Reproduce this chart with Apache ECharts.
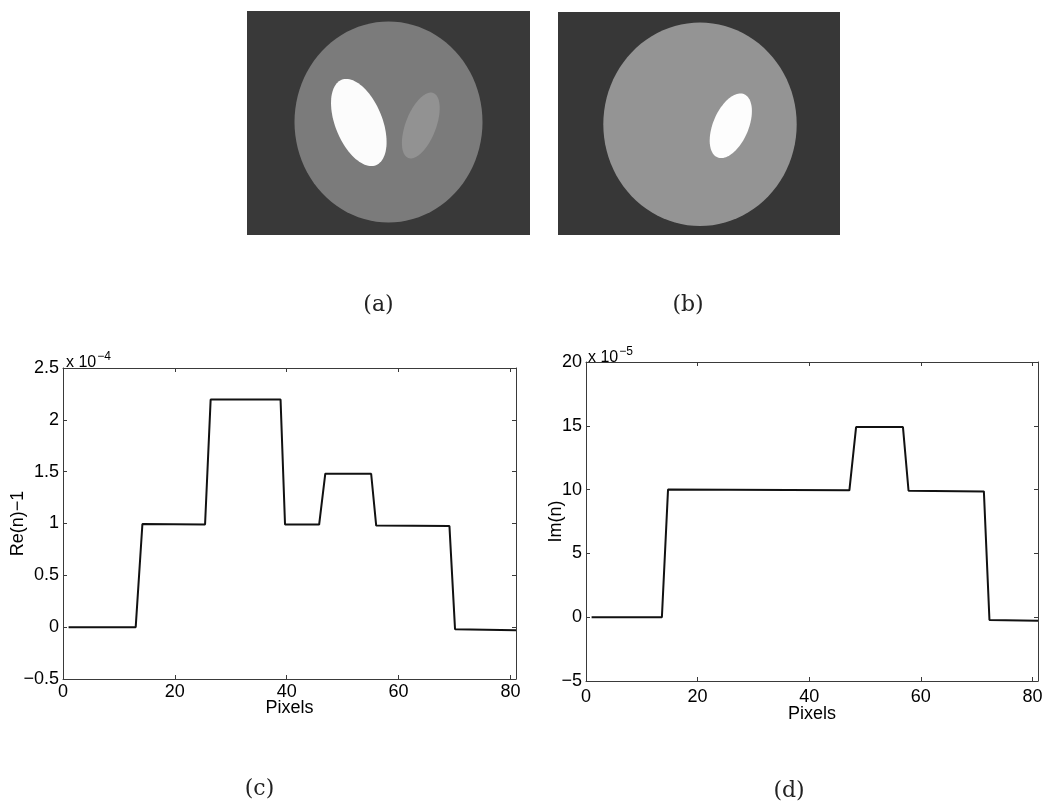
<!DOCTYPE html>
<html>
<head>
<meta charset="utf-8">
<style>
  html, body { margin: 0; padding: 0; background: #ffffff; }
  #chart { width: 1063px; height: 802px; }
</style>
<script src="https://cdn.jsdelivr.net/npm/echarts@6/dist/echarts.min.js"></script>
</head>
<body>
<div id="chart"></div>
<script>
// ---------- Data ----------
// Phantom (a): ellipses in image pixels (origin = image top-left, y down)
const phantomA_cx   = [141.5, 111.8, 173.8];
const phantomA_cy   = [111.0, 111.5, 114.5];
const phantomA_semiV = [100.5, 46.0, 34.8];   // semi-axis along (tilted) vertical
const phantomA_semiH = [94.0, 23.5, 15.2];    // semi-axis along (tilted) horizontal
const phantomA_tilt = [0, -22, 21];           // degrees
const phantomA_gray = [123, 252, 146];        // pixel grey level 0..255
const phantomA_size = [283, 224];             // image width, height (pixels)

// Phantom (b)
const phantomB_cx   = [142.0, 172.8];
const phantomB_cy   = [112.3, 113.8];
const phantomB_semiV = [101.7, 34.3];
const phantomB_semiH = [96.7, 17.7];
const phantomB_tilt = [0, 23];
const phantomB_gray = [148, 253];
const phantomB_size = [282, 223];

// (c) Re(n)-1 profile, x in pixels, y in units of 1e-4
const reX = [1, 13, 14.2, 25.4, 26.4, 38.9, 39.7, 45.8, 46.9, 55.1, 56.0, 69.1, 70.1, 81];
const reY = [0, 0, 0.995, 0.99, 2.195, 2.195, 0.99, 0.99, 1.48, 1.48, 0.98, 0.975, -0.02, -0.03];

// (d) Im(n) profile, x in pixels, y in units of 1e-5
const imX = [1, 13.6, 14.7, 47.2, 48.4, 56.8, 57.8, 71.3, 72.3, 81];
const imY = [0, 0, 10.0, 9.94, 14.9, 14.9, 9.91, 9.86, -0.22, -0.27];

// Axis ticks
const xTicks = { min: 0, max: 81, interval: 20 };
const reTicks = { min: -0.5, max: 2.5, interval: 0.5 };
const imTicks = { min: -5, max: 20, interval: 5 };

// ---------- Helpers ----------
const FONT = 'Liberation Sans, Arial, sans-serif';
const INK = '#000000';
const FRAME = '#3a3a3a';

function minusFmt(v) {
  return v < 0 ? '\u2212' + String(Math.abs(v)) : String(v);
}

function zip(xs, ys) { return xs.map((x, i) => [x, ys[i]]); }

function ellipseData(cx, cy, sv, sh, tilt, gray) {
  return cx.map((_, i) => [cx[i], cy[i], sv[i], sh[i], tilt[i], gray[i]]);
}

function renderEllipse(params, api) {
  const cx = api.value(0), cy = api.value(1);
  const a = api.value(2), b = api.value(3);
  const phi = api.value(4) * Math.PI / 180;
  const g = Math.round(api.value(5));
  const pts = [];
  const N = 96;
  for (let i = 0; i < N; i++) {
    const t = i / N * 2 * Math.PI;
    const u = b * Math.cos(t), v = a * Math.sin(t);
    pts.push(api.coord([cx + u * Math.cos(phi) - v * Math.sin(phi),
                        cy + u * Math.sin(phi) + v * Math.cos(phi)]));
  }
  return {
    type: 'polygon',
    shape: { points: pts },
    style: { fill: 'rgb(' + g + ',' + g + ',' + g + ')', stroke: null }
  };
}

function hiddenAxis(gridIndex, max, inverse) {
  return { type: 'value', gridIndex, min: 0, max, inverse: !!inverse, show: false };
}

function frameAxis(gridIndex, pos, t, withLabels, extra) {
  return Object.assign({
    type: 'value', gridIndex, position: pos,
    min: t.min, max: t.max, interval: t.interval,
    nameMoveOverlap: false,
    axisLine: { show: true, onZero: false, lineStyle: { color: FRAME, width: 1 } },
    axisTick: { show: true, inside: true, length: 4, lineStyle: { color: FRAME, width: 1 } },
    splitLine: { show: false },
    axisLabel: {
      show: withLabels, color: INK, fontFamily: FONT, fontSize: 18, margin: 4,
      formatter: minusFmt, showMinLabel: true, hideOverlap: false
    }
  }, extra || {});
}

const nameStyle = { color: INK, fontFamily: FONT, fontSize: 18 };

// ---------- Chart ----------
const chart = echarts.init(document.getElementById('chart'), null, { renderer: 'canvas' });

const option = {
  backgroundColor: '#ffffff',
  animation: false,
  grid: [
    { left: 247, top: 11, width: phantomA_size[0], height: phantomA_size[1],
      show: true, backgroundColor: '#393939', borderWidth: 0 },
    { left: 558, top: 12, width: phantomB_size[0], height: phantomB_size[1],
      show: true, backgroundColor: '#373737', borderWidth: 0 },
    { left: 63, top: 368, width: 453, height: 311 },
    { left: 586, top: 362, width: 452, height: 319 }
  ],
  xAxis: [
    hiddenAxis(0, phantomA_size[0]),
    hiddenAxis(1, phantomB_size[0]),
    frameAxis(2, 'bottom', xTicks, true, {
      name: 'Pixels', nameLocation: 'middle', nameGap: 20, nameTextStyle: nameStyle,
      axisLabel: { show: true, color: INK, fontFamily: FONT, fontSize: 18, margin: 4,
                   showMinLabel: true, showMaxLabel: false, hideOverlap: false }
    }),
    frameAxis(2, 'top', xTicks, false),
    frameAxis(3, 'bottom', xTicks, true, {
      name: 'Pixels', nameLocation: 'middle', nameGap: 24, nameTextStyle: nameStyle,
      axisLabel: { show: true, color: INK, fontFamily: FONT, fontSize: 18, margin: 7,
                   showMinLabel: true, showMaxLabel: false, hideOverlap: false }
    }),
    frameAxis(3, 'top', xTicks, false)
  ],
  yAxis: [
    hiddenAxis(0, phantomA_size[1], true),
    hiddenAxis(1, phantomB_size[1], true),
    frameAxis(2, 'left', reTicks, true, {
      name: 'Re(n)\u22121', nameLocation: 'middle', nameGap: 36, nameTextStyle: nameStyle
    }),
    frameAxis(2, 'right', reTicks, false),
    frameAxis(3, 'left', imTicks, true, {
      name: 'Im(n)', nameLocation: 'middle', nameGap: 21, nameTextStyle: nameStyle
    }),
    frameAxis(3, 'right', imTicks, false)
  ],
  series: [
    {
      type: 'custom', xAxisIndex: 0, yAxisIndex: 0, silent: true,
      renderItem: renderEllipse,
      data: ellipseData(phantomA_cx, phantomA_cy, phantomA_semiV, phantomA_semiH, phantomA_tilt, phantomA_gray),
      clip: true
    },
    {
      type: 'custom', xAxisIndex: 1, yAxisIndex: 1, silent: true,
      renderItem: renderEllipse,
      data: ellipseData(phantomB_cx, phantomB_cy, phantomB_semiV, phantomB_semiH, phantomB_tilt, phantomB_gray),
      clip: true
    },
    {
      type: 'line', xAxisIndex: 2, yAxisIndex: 2,
      data: zip(reX, reY), showSymbol: false, symbol: 'none',
      lineStyle: { color: '#111', width: 2 }, silent: true
    },
    {
      type: 'line', xAxisIndex: 4, yAxisIndex: 4,
      data: zip(imX, imY), showSymbol: false, symbol: 'none',
      lineStyle: { color: '#111', width: 2 }, silent: true
    }
  ],
  graphic: [
    { type: 'text', left: 66, top: 351,
      style: { text: 'x 10{s|\u22124}', fill: INK, font: '16px ' + FONT, lineHeight: 24,
               rich: { s: { fontSize: 12, fontFamily: FONT, lineHeight: 13, verticalAlign: 'top', fill: INK, padding: [0, 0, 0, 1] } } } },
    { type: 'text', left: 588, top: 346,
      style: { text: 'x 10{s|\u22125}', fill: INK, font: '16px ' + FONT, lineHeight: 24,
               rich: { s: { fontSize: 12, fontFamily: FONT, lineHeight: 13, verticalAlign: 'top', fill: INK, padding: [0, 0, 0, 1] } } } },
    { type: 'text', x: 378.5, y: 305,
      style: { text: '(a)', fill: '#222', font: '22px "DejaVu Serif", serif', align: 'center', verticalAlign: 'middle' } },
    { type: 'text', x: 688, y: 305,
      style: { text: '(b)', fill: '#222', font: '22px "DejaVu Serif", serif', align: 'center', verticalAlign: 'middle' } },
    { type: 'text', x: 259.5, y: 789,
      style: { text: '(c)', fill: '#222', font: '22px "DejaVu Serif", serif', align: 'center', verticalAlign: 'middle' } },
    { type: 'text', x: 789, y: 791,
      style: { text: '(d)', fill: '#222', font: '22px "DejaVu Serif", serif', align: 'center', verticalAlign: 'middle' } }
  ]
};

chart.setOption(option);
</script>
</body>
</html>
